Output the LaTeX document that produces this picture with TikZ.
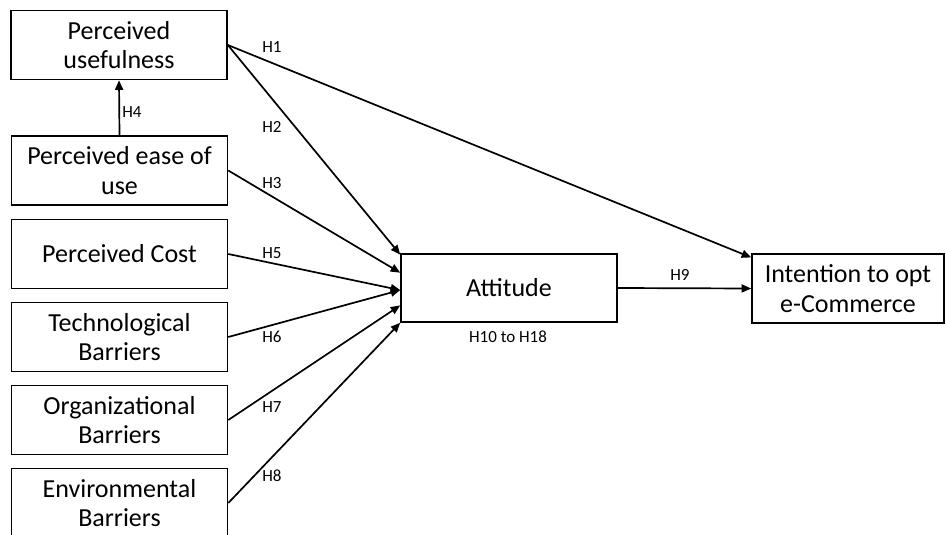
\documentclass[tikz,border=0pt]{standalone}
\usepackage{fontspec}
\setmainfont{Carlito}
\usetikzlibrary{arrows.meta,calc}
\begin{document}
\begin{tikzpicture}[x=1pt,y=-1pt,
  box/.style={draw=black,line width=1.6pt,minimum width=216pt,minimum height=69pt,
    align=center,inner sep=0pt,font=\fontsize{26}{29.5}\selectfont},
  hlab/.style={font=\fontsize{17}{19}\selectfont,inner sep=0pt},
  conn/.style={line width=1.7pt,-{Triangle[length=9.5pt,width=8pt]}}]
\useasboundingbox (0,0) rectangle (946,535);
\clip (0,0) rectangle (946,535);
\node[box] (pu) at (119,45) {Perceived\\usefulness};
\node[box] (peou) at (119.5,170.5) {Perceived ease of\\use};
\node[box] (pc) at (119.5,254) {Perceived Cost};
\node[box] (tb) at (119.5,337) {Technological\\Barriers};
\node[box] (ob) at (119.5,420) {Organizational\\Barriers};
\node[box] (eb) at (119.5,503) {Environmental\\Barriers};
\node[box,minimum height=68pt] (att) at (509,288) {Attitude};
\node[box,minimum width=192pt] (int) at (848,288.5) {Intention to opt\\e-Commerce};
\coordinate (a2) at ($(att.north west)!0.02!(att.south west)$);
\coordinate (a3) at ($(att.north west)!0.28!(att.south west)$);
\coordinate (a5) at ($(att.north west)!0.53!(att.south west)$);
\coordinate (a7) at ($(att.north west)!0.75!(att.south west)$);
\coordinate (a8) at ($(att.north west)!1.0!(att.south west)$);
\coordinate (i1) at ($(int.north west)!0.06!(int.south west)$);
\draw[conn] (pu.east) -- (i1);
\draw[conn] (pu.east) -- (a2);
\draw[conn] (peou.north) -- (pu.south);
\draw[conn] (peou.east) -- (a3);
\draw[conn] (pc.east) -- (a5);
\draw[conn] (tb.east) -- (a5);
\draw[conn] (ob.east) -- (a7);
\draw[conn] (eb.east) -- (a8);
\draw[conn] (att.east) -- (int.west);
\node[hlab] (h1) at (272,47) {H1};
\node[hlab] (h2) at (272,127) {H2};
\node[hlab] (h3) at (272,183) {H3};
\node[hlab] (h4) at (132,112) {H4};
\node[hlab] (h5) at (272,253) {H5};
\node[hlab] (h6) at (272,337) {H6};
\node[hlab] (h7) at (272,407) {H7};
\node[hlab] (h8) at (272,476) {H8};
\node[hlab] (h9) at (680,275) {H9};
\node[hlab] (h10) at (508,337) {H10 to H18};
\end{tikzpicture}
\end{document}
